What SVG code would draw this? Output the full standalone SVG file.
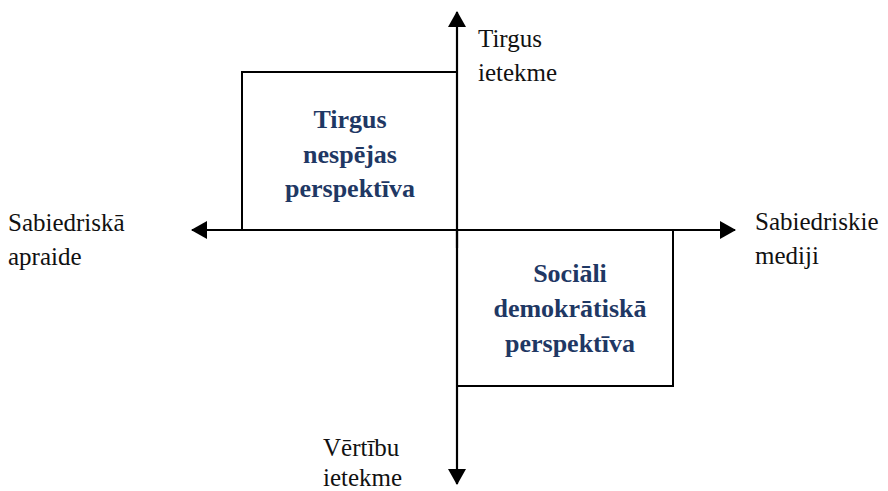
<svg xmlns="http://www.w3.org/2000/svg" width="888" height="491" viewBox="0 0 888 491">
<style>
.ax{stroke:#000;stroke-width:2.2;fill:none}
.bx{stroke:#000;stroke-width:2;fill:#fff}
.lb{font-family:'Liberation Serif','Times New Roman',Times,serif;font-size:25px;fill:#111}
.ql{font-family:'Liberation Serif','Times New Roman',Times,serif;font-size:26px;font-weight:bold;fill:#1F3864;text-anchor:middle}
</style>
<defs>
<marker id="ah" viewBox="0 0 16 18" refX="15" refY="9" markerWidth="16" markerHeight="18" markerUnits="userSpaceOnUse" orient="auto">
<path d="M0,0 L16,9 L0,18 Z" fill="#000"/>
</marker>
</defs>
<g id="box-market">
<path class="bx" d="M457,72 L242,72 L242,230 L457,230"/>
<text class="ql" x="350" y="128">Tirgus</text>
<text class="ql" x="350" y="163">nespējas</text>
<text class="ql" x="350" y="197">perspektīva</text>
</g>
<g id="box-social">
<path class="bx" d="M457,230 L673,230 L673,386 L457,386"/>
<text class="ql" x="570" y="282">Sociāli</text>
<text class="ql" x="570" y="317">demokrātiskā</text>
<text class="ql" x="570" y="352">perspektīva</text>
</g>
<g id="connectors">
<line class="ax" x1="457" y1="248" x2="457" y2="12" marker-end="url(#ah)"/>
<line class="ax" x1="457" y1="230" x2="457" y2="484" marker-end="url(#ah)"/>
<line class="ax" x1="457" y1="230" x2="192" y2="230" marker-end="url(#ah)"/>
<line class="ax" x1="457" y1="230" x2="735" y2="230" marker-end="url(#ah)"/>
</g>
<g id="label-top">
<text class="lb" x="478" y="47">Tirgus</text>
<text class="lb" x="478" y="81">ietekme</text>
</g>
<g id="label-left">
<text class="lb" x="8" y="231">Sabiedriskā</text>
<text class="lb" x="8" y="265">apraide</text>
</g>
<g id="label-right">
<text class="lb" x="755" y="230">Sabiedriskie</text>
<text class="lb" x="755" y="264">mediji</text>
</g>
<g id="label-bottom">
<text class="lb" x="323" y="456">Vērtību</text>
<text class="lb" x="323" y="486">ietekme</text>
</g>
</svg>
